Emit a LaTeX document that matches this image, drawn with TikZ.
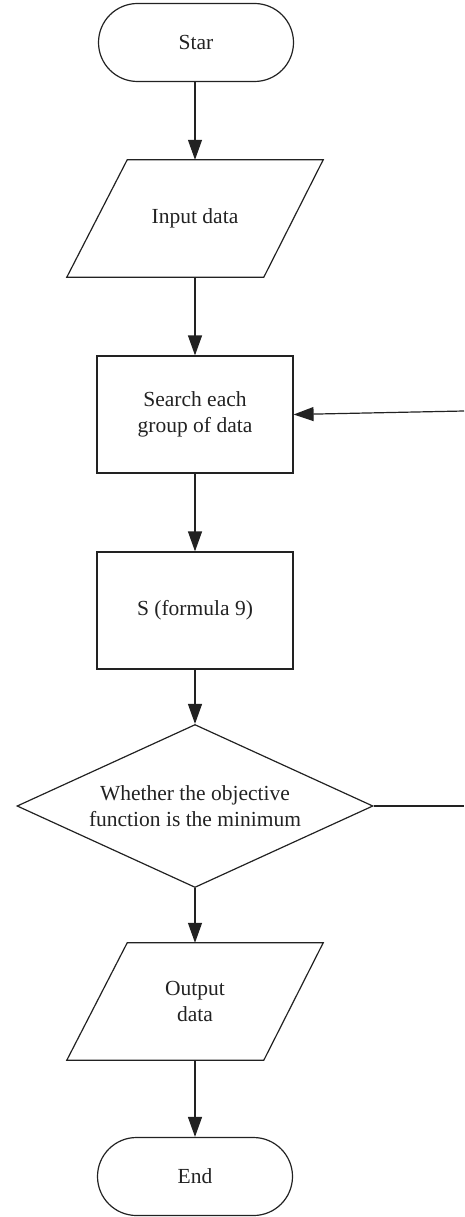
\documentclass[tikz,border=0pt]{standalone}
\usepackage{fontspec}
\setmainfont{Liberation Serif}
\usetikzlibrary{shapes.geometric,shapes.misc,arrows.meta}
\definecolor{ink}{HTML}{222222}
\begin{document}
\begin{tikzpicture}[x=1pt,y=-1pt,
  every node/.style={font=\fontsize{21.5}{26}\selectfont, text=ink, align=center},
  term/.style={draw=ink, line width=1.2pt, rounded rectangle, minimum width=195pt, minimum height=78pt, inner sep=0pt},
  io/.style={rectangle, minimum width=256pt, minimum height=117pt, inner sep=0pt},
  iobox/.style={draw=ink, line width=1.2pt, line join=miter},
  proc/.style={draw=ink, line width=1.2pt, rectangle, minimum width=196pt, minimum height=117pt, inner sep=0pt},
  decide/.style={draw=ink, line width=1.2pt, diamond, aspect=2.18, minimum width=356pt, minimum height=163pt, inner sep=0pt},
  arr/.style={draw=ink, line width=1.2pt, -{Triangle[length=20pt,width=14pt]}},
  ln/.style={draw=ink, line width=1.2pt}
]
\useasboundingbox (0,0) rectangle (464,1217);
\node[term] (star) at (196,42.5) {Star};
\node[io] (input) at (195,218.5) {Input data};
\draw[iobox] (input.south west) -- ([xshift=197pt]input.south west) -- (input.north east) -- ([xshift=-196pt]input.north east) -- cycle;
\node[proc] (search) at (195,414.5) {Search each\\group of data};
\node[proc] (s) at (195,610.5) {S (formula 9)};
\node[decide] (dec) at (195,806) {Whether the objective\\function is the minimum};
\node[io] (output) at (195,1001.5) {Output\\data};
\draw[iobox] (output.south west) -- ([xshift=197pt]output.south west) -- (output.north east) -- ([xshift=-196pt]output.north east) -- cycle;
\node[term] (end) at (195,1176.5) {End};
\coordinate (fb1) at (464,806);
\coordinate (fb2) at (464,411);
\draw[arr] (star.south -| input.center) -- (input.north);
\draw[arr] (input.south) -- (search.north);
\draw[arr] (search.south) -- (s.north);
\draw[arr] (s.south) -- (dec.north);
\draw[arr] (dec.south) -- (output.north);
\draw[arr] (output.south) -- (end.north);
\draw[ln] (dec.east) -- (fb1);
\draw[arr] (fb2) -- (search.east);
\end{tikzpicture}
\end{document}
